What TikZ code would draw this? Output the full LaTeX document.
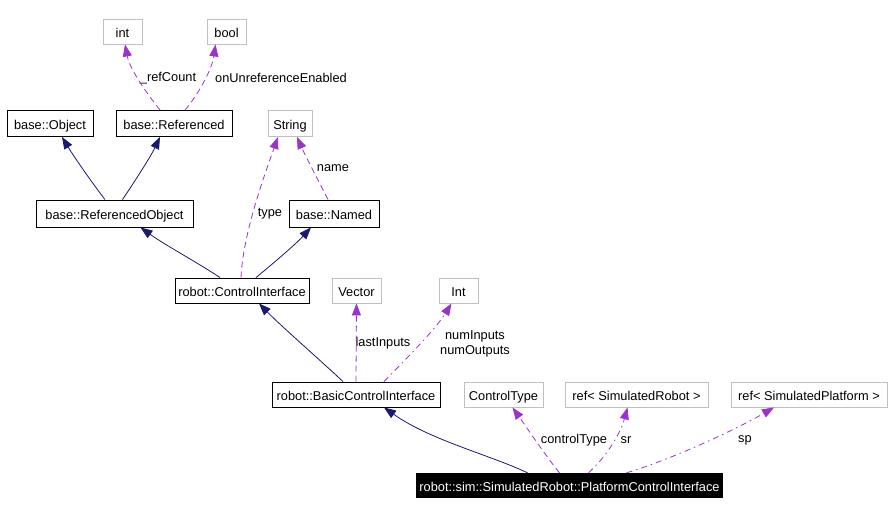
\documentclass[tikz,border=0pt]{standalone}
\usepackage{fontspec}
\setmainfont{Liberation Sans}
\usetikzlibrary{arrows.meta}
\definecolor{navyedge}{RGB}{25,25,112}
\definecolor{purpleedge}{RGB}{154,50,205}
\definecolor{graybox}{RGB}{191,191,191}
\tikzset{
  every node/.style={font=\fontsize{12.8}{15}\selectfont},
  boxbase/.style={inner sep=0pt, minimum height=25pt, text height=12pt, text depth=0pt},
  cls/.style={boxbase, draw=black, line width=0.9pt},
  ext/.style={boxbase, draw=graybox, line width=0.9pt},
  cur/.style={boxbase, fill=black, text=white},
  inh/.style={draw=navyedge, line width=0.8pt, -{Triangle[length=12pt,width=9pt]}},
  usedash/.style={draw=purpleedge, line width=0.8pt, dash pattern=on 6pt off 4pt, -{Triangle[length=12pt,width=9pt]}},
  usedot/.style={draw=purpleedge, line width=0.8pt, dash pattern=on 6pt off 4pt on 1.5pt off 4pt, -{Triangle[length=12pt,width=9pt]}},
  lbl/.style={inner sep=0pt, align=center, font=\fontsize{12.8}{15}\selectfont}
}
\begin{document}
\begin{tikzpicture}[x=1pt,y=-1pt]
\useasboundingbox (0,0) rectangle (892,515);
% nodes
\node[ext, minimum width=39pt] (int) at (122.5,31.5) {int};
\node[ext, minimum width=39pt] (bool) at (226.5,31.5) {bool};
\node[cls, minimum width=86pt, minimum height=26pt] (obj) at (50,123.5) {base::Object};
\node[cls, minimum width=116pt, minimum height=26pt] (ref) at (174,123.5) {base::Referenced};
\node[ext, minimum width=44pt, minimum height=26pt] (str) at (290,123.5) {String};
\node[cls, minimum width=157pt, minimum height=27pt] (ro) at (114.5,213.5) {base::ReferencedObject};
\node[cls, minimum width=90pt, minimum height=27pt] (named) at (334,213.5) {base::Named};
\node[cls, minimum width=134pt] (ci) at (242,290.5) {robot::ControlInterface};
\node[ext, minimum width=49pt] (vec) at (356.5,290.5) {Vector};
\node[ext, minimum width=39pt] (Int) at (458.5,290.5) {Int};
\node[cls, minimum width=168pt] (bci) at (356,394.5) {robot::BasicControlInterface};
\node[ext, minimum width=79pt] (ct) at (503.5,394.5) {ControlType};
\node[ext, minimum width=143pt] (rsr) at (636.5,394.5) {ref< SimulatedRobot >};
\node[ext, minimum width=156pt] (rsp) at (809,394.5) {ref< SimulatedPlatform >};
\node[cur, minimum width=307pt] (pci) at (569.5,485.5) {robot::sim::SimulatedRobot::PlatformControlInterface};
% labels
\node[lbl] (lref) at (168,78) {\_refCount};
\node[lbl] (lonu) at (281,78) {onUnreferenceEnabled};
\node[lbl] (lname) at (333,168) {name};
\node[lbl] (ltype) at (270,214) {type};
\node[lbl] (llast) at (383,343) {lastInputs};
\node[lbl] (lnum) at (475,343.5) {numInputs\\numOutputs};
\node[lbl] (lct) at (574,440) {controlType};
\node[lbl] (lsr) at (626,440) {sr};
\node[lbl] (lsp) at (745,440) {sp};
% edges
\draw[usedash] ([xshift=-14pt]ref.north) .. controls (148,95) and (130,70) .. ([xshift=2.5pt]int.south);
\draw[usedash] ([xshift=11pt]ref.north) .. controls (197,96) and (212,70) .. ([xshift=-11pt]bool.south);
\draw[inh] ([xshift=-9.5pt]ro.north) .. controls (96,188) and (76,160) .. ([xshift=12pt]obj.south);
\draw[inh] ([xshift=8pt]ro.north) .. controls (131,187) and (150,158) .. ([xshift=-14pt]ref.south);
\draw[inh] ([xshift=-22pt]ci.north) .. controls (200,264) and (165,245) .. ([xshift=26pt]ro.south);
\draw[inh] ([xshift=14pt]ci.north) .. controls (270,266) and (295,245) .. ([xshift=-23pt]named.south);
\draw[usedash] ([xshift=-1pt]ci.north) .. controls (243,235) and (262,182) .. ([xshift=-12pt]str.south);
\draw[usedash] ([xshift=-6pt]named.north) .. controls (318,180) and (305,155) .. ([xshift=7pt]str.south);
\draw[inh] ([xshift=-13pt]bci.north) .. controls (320,360) and (280,325) .. ([xshift=17pt]ci.south);
\draw[usedash] (bci.north) -- (vec.south);
\draw[usedot] ([xshift=28pt]bci.north) .. controls (405,360) and (435,330) .. ([xshift=-7pt]Int.south);
\draw[inh] ([xshift=-42pt]pci.north) .. controls (490,455) and (430,440) .. ([xshift=28pt]bci.south);
\draw[usedash] ([xshift=-10pt]pci.north) .. controls (545,455) and (525,425) .. ([xshift=9pt]ct.south);
\draw[usedot] ([xshift=19pt]pci.north) .. controls (605,458) and (620,435) .. ([xshift=-9pt]rsr.south);
\draw[usedot] ([xshift=57pt]pci.north) .. controls (670,460) and (735,430) .. ([xshift=-35pt]rsp.south);
\end{tikzpicture}
\end{document}
